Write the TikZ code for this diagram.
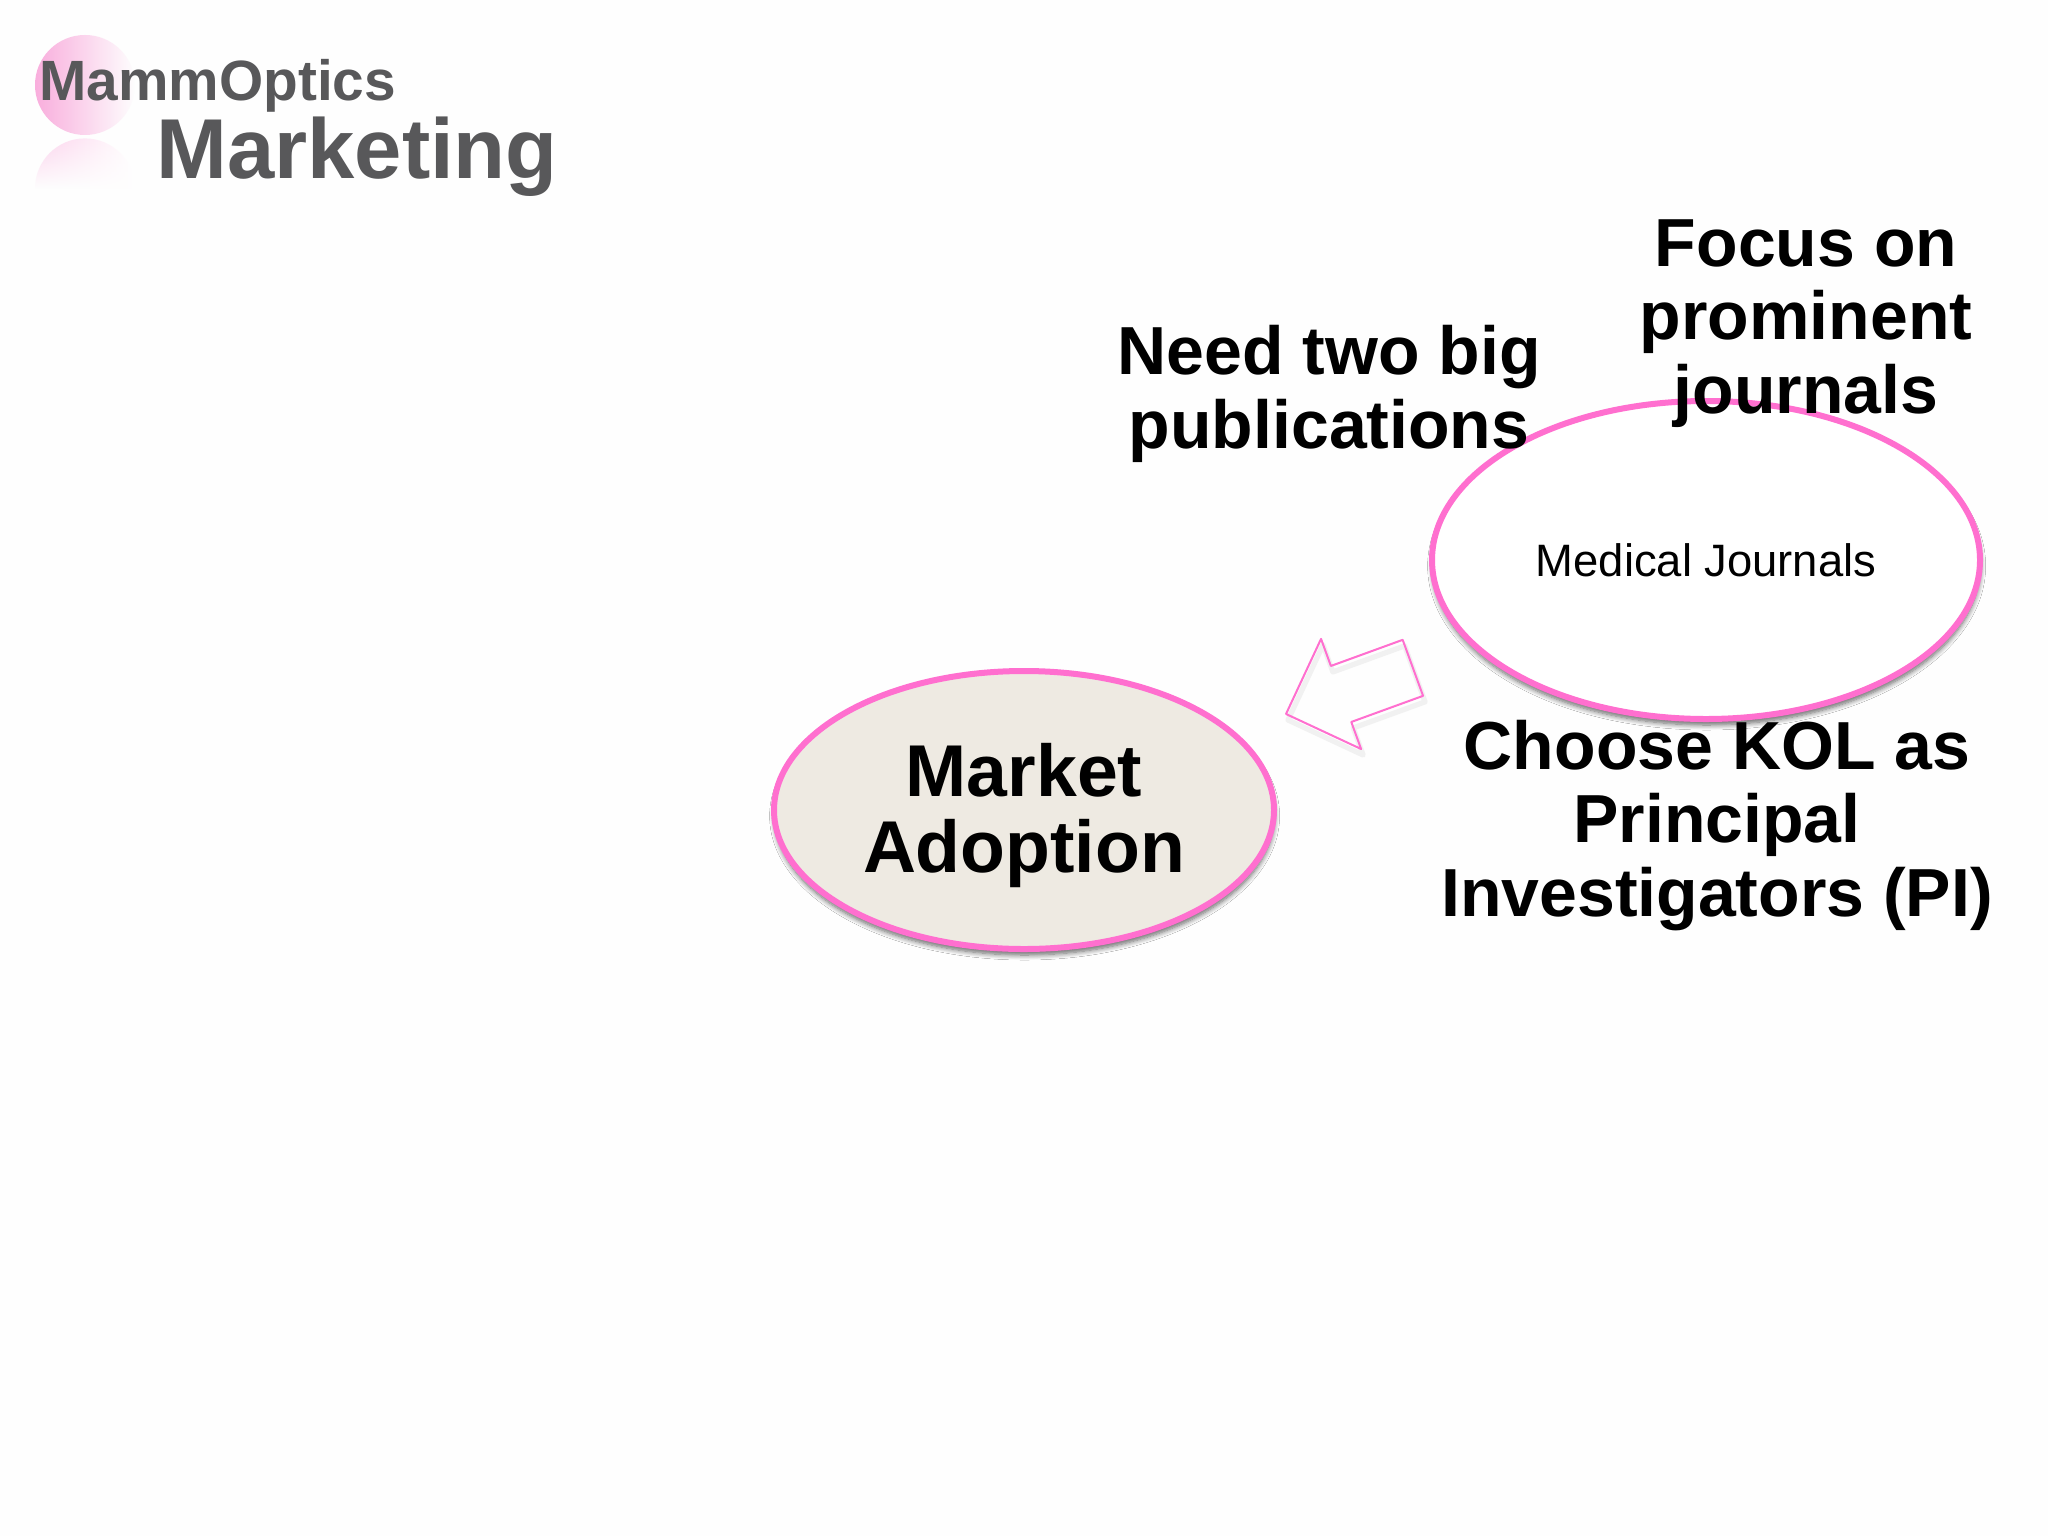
\documentclass[tikz,border=0pt]{standalone}
\usepackage{fontspec}
\setmainfont{Liberation Sans}
\usepackage{tikz}
\usetikzlibrary{positioning}
\usetikzlibrary{shadows}
\usetikzlibrary{shadows.blur}
\usetikzlibrary{fadings}
\usetikzlibrary{shapes.geometric}
\usetikzlibrary{shapes.arrows}
\definecolor{logopink}{HTML}{F9AEDD}
\definecolor{logogrey}{HTML}{58585A}
\definecolor{rimpink}{HTML}{FF6FCF}
\definecolor{adoptfill}{HTML}{EEEAE2}
\tikzset{
  bubble/.style={ellipse,draw=rimpink,line width=3pt,inner sep=0pt,outer sep=0pt,
    blur shadow={shadow xshift=0.3pt,shadow yshift=-3pt,shadow blur steps=8,shadow blur radius=2.5pt,shadow opacity=60}},
  note/.style={font=\bfseries\fontsize{34}{36.7}\selectfont,align=center,anchor=base,inner sep=0pt},
}
\begin{document}
\begin{tikzpicture}[line cap=round,line join=round,x=0.5pt,y=-0.5pt]
\useasboundingbox[fill=white!99.5!black] (0,0) rectangle (2048,1536);
% logo
\node[circle,inner sep=0pt,minimum size=50pt,fill=logopink,path fading=east] (logoball) at (85,85) {};
\node[semicircle,anchor=apex,inner sep=0pt,minimum width=50pt,left color=logopink!55,right color=white,path fading=south] (logoecho) at (85,138) {};
\node[anchor=base west,inner sep=0pt,text=logogrey,font=\bfseries\fontsize{28.4}{30}\selectfont] (company) at (39,100) {MammOptics};
\node[anchor=base west,inner sep=0pt,text=logogrey,font=\bfseries\fontsize{42.5}{44}\selectfont] (title) at (156,178) {Marketing};
% bubbles
\node[bubble,fill=adoptfill,minimum width=250pt,minimum height=139pt,font=\bfseries\fontsize{36.7}{38}\selectfont,align=center] (adoption) at (1024,810) {\rule{0pt}{31.7pt}Market\\Adoption};
\node[bubble,fill=white,minimum width=274pt,minimum height=159pt,font=\fontsize{22.7}{26}\selectfont] (journals) at (1706,560) {Medical Journals};
% arrow
\node[single arrow,draw=rimpink,line width=1pt,inner sep=14.4pt,inner xsep=0pt,outer sep=0pt,minimum height=67.5pt,single arrow head extend=14.4pt,
  anchor=tip,rotate=200,drop shadow={shadow xshift=1pt,shadow yshift=-3pt,fill=none,draw=black!10,line width=2.6pt}] (pointer) at (1286,714) {};
% notes
\node[note] (bigpubs) at (1329,448) {Need two big\\publications};
\node[note] (focus) at (1806,413) {Focus on\\prominent\\journals};
\node[note] (kol) at (1717,916) {Choose KOL as\\Principal\\Investigators (PI)};
\end{tikzpicture}
\end{document}
